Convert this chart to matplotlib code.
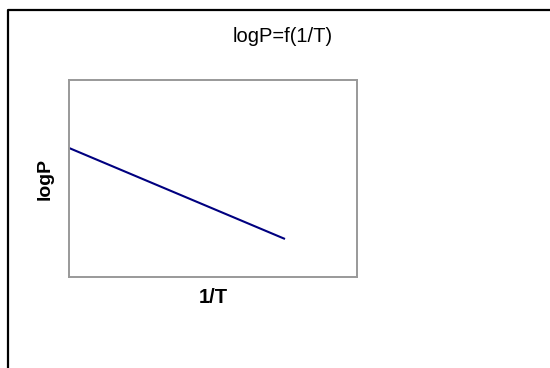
import matplotlib
matplotlib.use('Agg')
from matplotlib import pyplot as plt
from matplotlib.lines import Line2D

# data (axes fraction units)
inv_t = [0.0, 0.75]
log_p = [0.655, 0.193]

title = 'logP=f(1/T)'
x_label = '1/T'
y_label = 'logP'

plt.rcParams['font.family'] = ['Liberation Sans', 'DejaVu Sans']

fig = plt.figure(figsize=(5.5, 3.68), dpi=100)
fig.patch.set_facecolor('white')

# outer frame, only left and top visible inside the picture
fig.add_artist(Line2D([8 / 550, 8 / 550, 1.0], [0.0, 1 - 10 / 368, 1 - 10 / 368],
                      transform=fig.transFigure, color='black', lw=1.6))

fig.text(283 / 550, 1 - 37 / 368, title, ha='center', va='center', fontsize=14.5)

ax = fig.add_axes([69 / 550, 1 - 277 / 368, 288 / 550, 197 / 368])
ax.plot(inv_t, log_p, color='#000080', lw=1.5, solid_capstyle='butt')
ax.set_xlim(0, 1)
ax.set_ylim(0, 1)
ax.set_xticks([])
ax.set_yticks([])
for s in ax.spines.values():
  s.set_color('#999999')
  s.set_linewidth(1.4)

ax.set_xlabel(x_label, fontsize=14.5, fontweight='bold', labelpad=8)
ax.set_ylabel(y_label, fontsize=14, fontweight='bold', labelpad=11)

fig.savefig('out.png', dpi=100)
